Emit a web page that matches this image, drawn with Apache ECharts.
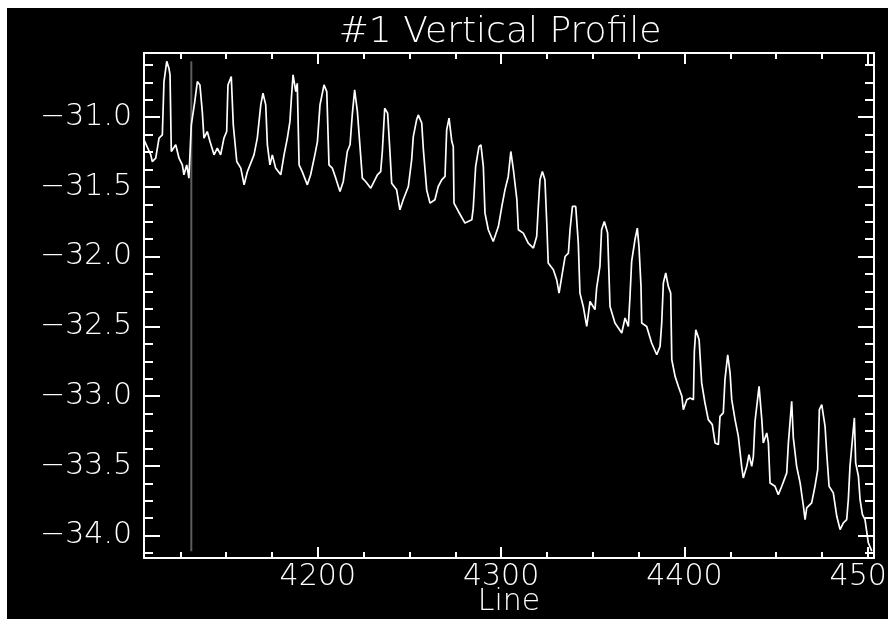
<!DOCTYPE html>
<html><head><meta charset="utf-8">
<script src="https://cdn.jsdelivr.net/npm/echarts@6/dist/echarts.min.js"></script>
<style>
html,body{margin:0;padding:0;background:#000;width:888px;height:619px;overflow:hidden}
#chart{position:absolute;left:7px;top:8px;width:881px;height:611px;background:#000}
#padTop{position:absolute;left:0;top:0;width:100%;height:8px;background:#fff}
#padLeft{position:absolute;left:0;top:0;width:7px;height:100%;background:#fff}
</style></head><body><div id="padTop"></div><div id="padLeft"></div><div id="chart"></div>
<script>
const chartTitle = '#1 Vertical Profile';
const xAxisName = 'Line';
const xRange = [4105.2, 4503.4];
const yRange = [-34.16, -30.54];
const xMajorTicks = [4200, 4300, 4400, 4500];
const xMinorTicks = [4125, 4150, 4175, 4225, 4250, 4275, 4325, 4350, 4375, 4425, 4450, 4475];
const yMajorTicks = [-34.0, -33.5, -33.0, -32.5, -32.0, -31.5, -31.0];
const yMinorTicks = [-34.125, -33.875, -33.75, -33.625, -33.375, -33.25, -33.125, -32.875, -32.75, -32.625,
  -32.375, -32.25, -32.125, -31.875, -31.75, -31.625, -31.375, -31.25, -31.125, -30.875, -30.75, -30.625];
const cursorLine = 4131;

const lineNo = [
  4105.2, 4108.9, 4109.7, 4111.6, 4113.4, 4115.2, 4116.1, 4117.6, 4118.8, 4119.4,
  4120.1, 4122.5, 4124.3, 4126.1, 4127.0, 4128.5, 4129.7,
  4131.0, 4132.9, 4134.3, 4135.7, 4137.0, 4137.9, 4139.7, 4141.2, 4143.4, 4145.2, 4147.0, 4148.8, 4150.3,
  4151.0, 4152.8, 4153.9, 4155.8, 4158.0, 4159.8, 4161.6, 4165.2, 4167.0,
  4168.9, 4170.1, 4171.6, 4172.5, 4173.9, 4175.2, 4177.0, 4179.8, 4181.6, 4183.4,
  4184.8, 4185.6, 4186.5, 4188.0, 4188.8, 4189.8, 4191.5, 4194.3, 4196.1, 4198.4, 4199.8,
  4201.2, 4203.4, 4204.9, 4206.1, 4207.9, 4209.8, 4212.1, 4213.9, 4216.1, 4217.6,
  4218.8, 4220.1, 4221.6, 4224.3, 4226.1, 4228.9, 4232.5, 4234.3, 4235.2, 4236.5,
  4238.1, 4239.4, 4240.3, 4243.0, 4244.8, 4246.6, 4249.4, 4251.2, 4252.1,
  4253.9, 4254.8, 4256.7, 4257.6, 4259.4, 4261.2, 4263.9, 4265.7, 4267.6, 4269.4,
  4270.3, 4271.6, 4273.1, 4273.9, 4274.3, 4276.7, 4280.3, 4284.0, 4284.8, 4286.1,
  4287.9, 4289.0, 4290.3, 4291.2, 4293.0, 4295.7, 4298.5, 4300.4, 4302.1, 4303.9,
  4305.3, 4306.7, 4308.6, 4309.4, 4312.1, 4314.8, 4317.6, 4319.4, 4320.3, 4321.2,
  4322.5, 4323.9, 4324.9, 4325.7, 4328.5, 4330.3, 4331.6, 4333.1, 4334.9, 4336.7,
  4337.6, 4338.9, 4340.7, 4342.1, 4343.0, 4344.8, 4346.7, 4348.5, 4351.2, 4352.1,
  4353.9, 4354.8, 4356.3, 4358.1, 4359.4, 4362.1, 4365.8, 4367.6,
  4369.4, 4370.3, 4371.2, 4373.0, 4374.3, 4375.2, 4376.3, 4376.7, 4379.4, 4382.1, 4384.9,
  4386.7, 4387.6, 4388.5, 4389.8, 4391.2, 4392.5, 4393.1, 4394.9, 4396.7, 4398.6,
  4399.4, 4401.3, 4403.1, 4404.9, 4405.4, 4406.2, 4408.0, 4409.4, 4411.2, 4413.0,
  4415.2, 4416.7, 4418.5, 4419.4, 4421.2, 4422.1, 4423.6, 4424.9, 4425.8, 4427.6,
  4429.4, 4431.2, 4432.1, 4434.0, 4435.2, 4436.7, 4437.6, 4438.5, 4440.7, 4442.2,
  4443.0, 4444.9, 4445.8, 4446.7, 4449.4, 4451.2, 4453.1, 4455.8, 4456.7, 4458.5,
  4459.4, 4461.2, 4463.1, 4464.9, 4465.8, 4466.7, 4469.4, 4471.2, 4472.7, 4473.6,
  4474.9, 4476.7, 4477.6, 4478.9, 4481.2, 4483.1, 4484.9, 4486.7, 4488.5, 4489.4,
  4490.3, 4492.7, 4493.4, 4494.9, 4495.8, 4497.1, 4498.5, 4500.3, 4502.2
];
const profile = [
  -31.163, -31.270, -31.318, -31.294, -31.150, -31.127, -30.745, -30.600, -30.649, -30.697,
  -31.246, -31.198, -31.294, -31.342, -31.413, -31.342, -31.437,
  -31.055, -30.888, -30.745, -30.769, -30.960, -31.150, -31.103, -31.175, -31.270, -31.222, -31.270, -31.150, -31.103,
  -30.769, -30.709, -31.055, -31.318, -31.365, -31.485, -31.390, -31.270, -31.150,
  -30.912, -30.828, -30.912, -31.198, -31.342, -31.270, -31.365, -31.413, -31.270, -31.150,
  -31.032, -30.864, -30.697, -30.817, -30.757, -31.342, -31.390, -31.485, -31.413, -31.270, -31.175,
  -30.912, -30.769, -30.817, -31.342, -31.365, -31.437, -31.533, -31.461, -31.246, -31.198,
  -30.984, -30.804, -30.960, -31.437, -31.461, -31.509, -31.413, -31.390, -31.246, -30.936,
  -30.971, -31.258, -31.473, -31.521, -31.664, -31.592, -31.497, -31.306, -31.139,
  -31.019, -30.984, -31.043, -31.234, -31.521, -31.616, -31.592, -31.497, -31.449, -31.425,
  -31.091, -31.007, -31.175, -31.211, -31.616, -31.676, -31.759, -31.736, -31.652, -31.354,
  -31.211, -31.198, -31.354, -31.688, -31.807, -31.891, -31.784, -31.640, -31.521, -31.425,
  -31.246, -31.377, -31.592, -31.807, -31.831, -31.903, -31.938, -31.855, -31.640, -31.449,
  -31.390, -31.449, -31.759, -32.046, -32.094, -32.165, -32.261, -32.142, -31.999, -31.974,
  -31.807, -31.640, -31.640, -31.903, -32.261, -32.357, -32.500, -32.321, -32.380, -32.225,
  -32.070, -31.807, -31.748, -31.831, -32.357, -32.476, -32.547, -32.440,
  -32.500, -32.285, -32.034, -31.879, -31.795, -31.927, -32.213, -32.476, -32.500, -32.619, -32.703,
  -32.643, -32.476, -32.189, -32.117, -32.213, -32.261, -32.739, -32.858, -32.930, -33.001,
  -33.097, -33.025, -33.013, -33.025, -32.679, -32.524, -32.595, -32.905, -33.049, -33.168,
  -33.204, -33.335, -33.347, -33.145, -33.120, -32.882, -32.703, -32.834, -33.025, -33.168,
  -33.288, -33.503, -33.586, -33.503, -33.419, -33.503, -33.431, -33.180, -32.930, -33.168,
  -33.335, -33.264, -33.335, -33.622, -33.646, -33.706, -33.646, -33.550, -33.335, -33.037,
  -33.299, -33.503, -33.622, -33.789, -33.885, -33.801, -33.765, -33.646, -33.526, -33.097,
  -33.061, -33.216, -33.407, -33.646, -33.693, -33.861, -33.956, -33.908, -33.885, -33.741,
  -33.503, -33.156, -33.478, -33.574, -33.741, -33.849, -33.885, -34.051, -34.111
];

const FONT = 'DejaVu Sans';
const WHITE = '#ffffff';
const n = Math.min(lineNo.length, profile.length);
const seriesData = [];
for (let i = 0; i < n; i++) seriesData.push([lineNo[i], profile[i]]);
const pMin = Math.min(...profile), pMax = Math.max(...profile);

function xAx(pos, ticks, len, main) {
  return {
    type: 'value', position: pos, min: xRange[0], max: xRange[1],
    axisLine: {show: main, onZero: false, lineStyle: {color: WHITE, width: 2}},
    axisTick: {show: true, inside: true, length: len, customValues: ticks, lineStyle: {color: WHITE, width: 2}},
    axisLabel: (main && pos === 'bottom') ? {
      show: true, customValues: xMajorTicks, color: WHITE, fontFamily: FONT, fontSize: 30, fontWeight: 200, margin: 4,
      formatter: v => String(Math.round(v))
    } : {show: false},
    splitLine: {show: false},
    name: (main && pos === 'bottom') ? xAxisName : '',
    nameLocation: 'middle', nameGap: 29, nameMoveOverlap: false,
    nameTextStyle: {color: WHITE, fontFamily: FONT, fontSize: 30, fontWeight: 200}
  };
}
function yAx(pos, ticks, len, main) {
  return {
    type: 'value', position: pos, min: yRange[0], max: yRange[1],
    axisLine: {show: main, onZero: false, lineStyle: {color: WHITE, width: 2}},
    axisTick: {show: true, inside: true, length: len, customValues: ticks, lineStyle: {color: WHITE, width: 2}},
    axisLabel: (main && pos === 'left') ? {
      show: true, customValues: yMajorTicks, color: WHITE, fontFamily: FONT, fontSize: 30, fontWeight: 200, margin: 12,
      formatter: v => '\u2212' + Math.abs(v).toFixed(1)
    } : {show: false},
    splitLine: {show: false}
  };
}

const chart = echarts.init(document.getElementById('chart'), null, {renderer: 'canvas'});
chart.setOption({
  backgroundColor: '#000',
  animation: false,
  title: {
    text: chartTitle, left: 493, top: 7, textAlign: 'center', padding: 0,
    textStyle: {color: WHITE, fontFamily: FONT, fontSize: 36, fontWeight: 200}
  },
  grid: {left: 137, right: 14, top: 45, bottom: 61, containLabel: false, outerBoundsMode: 'none'},
  xAxis: [
    xAx('bottom', xMajorTicks, 11, true),
    xAx('bottom', xMinorTicks, 6, false),
    xAx('top', xMajorTicks, 11, true),
    xAx('top', xMinorTicks, 6, false)
  ],
  yAxis: [
    yAx('left', yMajorTicks, 16, true),
    yAx('left', yMinorTicks, 9, false),
    yAx('right', yMajorTicks, 16, true),
    yAx('right', yMinorTicks, 9, false)
  ],
  series: [
    {
      type: 'line', xAxisIndex: 0, yAxisIndex: 0, data: [[cursorLine, pMax], [cursorLine, pMin]],
      showSymbol: false, symbol: 'none', lineStyle: {color: '#5c5c5c', width: 2}, z: 1, silent: true
    },
    {
      type: 'line', xAxisIndex: 0, yAxisIndex: 0, data: seriesData,
      showSymbol: false, symbol: 'none', lineStyle: {color: WHITE, width: 1.7}, z: 3
    }
  ]
});
</script></body></html>
